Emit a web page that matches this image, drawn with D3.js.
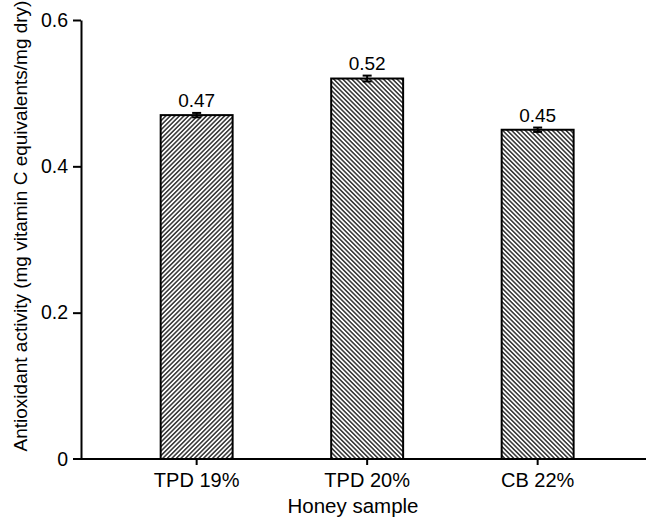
<!DOCTYPE html>
<html>
<head>
<meta charset="utf-8">
<script src="https://cdn.jsdelivr.net/npm/d3@7"></script>
<style>
  body { margin: 0; background: #fff; }
  svg { display: block; font-family: "Liberation Sans", Arial, sans-serif; }
</style>
</head>
<body>
<svg id="chart" width="646" height="517"></svg>
<script>
// data
var samples = ['TPD 19%', 'TPD 20%', 'CB 22%'];
var activity = [0.47, 0.52, 0.45];
var errors = [0.003, 0.004, 0.003];
var valueLabels = ['0.47', '0.52', '0.45'];
var yTicks = [0, 0.2, 0.4, 0.6];
var yTickLabels = ['0', '0.2', '0.4', '0.6'];
var hatchAngle = [45, -45, -45];

const width = 646, height = 517;
const svg = d3.select('#chart');

// hatch patterns, one per bar ("/" for the first, "\" for the others)
var defs = svg.append('defs');
hatchAngle.forEach(function(a, i) {
  var p = defs.append('pattern')
    .attr('id', 'hatch' + i)
    .attr('patternUnits', 'userSpaceOnUse')
    .attr('width', 3.2).attr('height', 10)
    .attr('patternTransform', 'rotate(' + a + ')');
  p.append('rect').attr('width', 3.2).attr('height', 10).attr('fill', '#fff');
  p.append('line')
    .attr('x1', 0.8).attr('x2', 0.8)
    .attr('y1', 0).attr('y2', 10)
    .attr('stroke', '#222').attr('stroke-width', 1.4);
});

var x = d3.scaleBand()
  .domain(samples)
  .range([111.4, 622.9])
  .paddingInner(0.578)
  .paddingOuter(0.289);

var y = d3.scaleLinear()
  .domain([0, 0.6])
  .range([459, 20]);

// bars
svg.selectAll('.bar')
  .data(samples)
  .enter().append('rect')
  .attr('class', 'bar')
  .attr('x', d => x(d))
  .attr('y', (d, i) => y(activity[i]))
  .attr('width', x.bandwidth())
  .attr('height', (d, i) => y(0) - y(activity[i]))
  .attr('fill', (d, i) => 'url(#hatch' + i + ')')
  .attr('stroke', '#000')
  .attr('stroke-width', 2);

// error bars
var eb = svg.selectAll('.err')
  .data(samples)
  .enter().append('g')
  .attr('class', 'err');
eb.append('line')
  .attr('x1', d => x(d) + x.bandwidth() / 2)
  .attr('x2', d => x(d) + x.bandwidth() / 2)
  .attr('y1', (d, i) => y(activity[i] - errors[i]))
  .attr('y2', (d, i) => y(activity[i] + errors[i]))
  .attr('stroke', '#000').attr('stroke-width', 2);
eb.append('line')
  .attr('x1', d => x(d) + x.bandwidth() / 2 - 4.5)
  .attr('x2', d => x(d) + x.bandwidth() / 2 + 4.5)
  .attr('y1', (d, i) => y(activity[i] + errors[i]))
  .attr('y2', (d, i) => y(activity[i] + errors[i]))
  .attr('stroke', '#000').attr('stroke-width', 2);
eb.append('line')
  .attr('x1', d => x(d) + x.bandwidth() / 2 - 4.5)
  .attr('x2', d => x(d) + x.bandwidth() / 2 + 4.5)
  .attr('y1', (d, i) => y(activity[i] - errors[i]))
  .attr('y2', (d, i) => y(activity[i] - errors[i]))
  .attr('stroke', '#000').attr('stroke-width', 2);

// value labels
svg.selectAll('.val')
  .data(samples)
  .enter().append('text')
  .attr('class', 'val')
  .attr('x', d => x(d) + x.bandwidth() / 2)
  .attr('y', (d, i) => y(activity[i] + errors[i]) - 6)
  .attr('text-anchor', 'middle')
  .attr('font-size', 19)
  .attr('fill', '#000')
  .text((d, i) => valueLabels[i]);

// y axis
var yAxis = svg.append('g')
  .attr('transform', 'translate(81,0)')
  .call(d3.axisLeft(y).tickValues(yTicks).tickFormat((d, i) => yTickLabels[i]).tickSize(8).tickPadding(5).tickSizeOuter(0));
yAxis.select('.domain').attr('stroke-width', 2);
yAxis.selectAll('.tick line').attr('stroke-width', 2);
yAxis.selectAll('.tick text').attr('font-size', 19.5).attr('font-family', '"Liberation Sans", Arial, sans-serif').attr('fill', '#000');
// the 0 tick line sits on the x axis
yAxis.selectAll('.tick').filter(d => d == 0).select('line').remove();

// x axis
var xAxis = svg.append('g')
  .attr('transform', 'translate(0,459)')
  .call(d3.axisBottom(x).tickSize(6).tickPadding(8).tickSizeOuter(0));
xAxis.select('.domain').remove();
xAxis.append('line')
  .attr('x1', 73).attr('x2', width)
  .attr('stroke', '#000').attr('stroke-width', 2);
xAxis.selectAll('.tick line').attr('stroke-width', 2);
xAxis.selectAll('.tick text').attr('font-size', 20).attr('font-family', '"Liberation Sans", Arial, sans-serif').attr('fill', '#000');

// axis titles
svg.append('text')
  .attr('x', 353)
  .attr('y', 513)
  .attr('text-anchor', 'middle')
  .attr('font-size', 20.5)
  .text('Honey sample');

svg.append('text')
  .attr('transform', 'translate(27,226) rotate(-90)')
  .attr('text-anchor', 'middle')
  .attr('font-size', 19)
  .text('Antioxidant activity (mg vitamin C equivalents/mg dry)');
</script>
</body>
</html>
